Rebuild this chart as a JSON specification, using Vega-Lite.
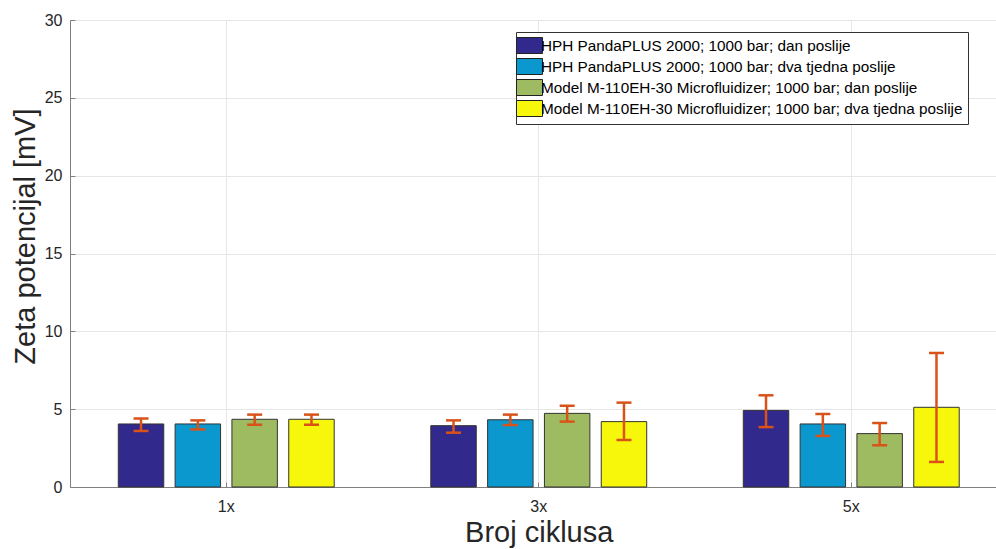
{
  "$schema": "https://vega.github.io/schema/vega-lite/v6.json",
  "autosize": {"type": "none"},
  "width": 926,
  "height": 467,
  "padding": {"left": 70, "top": 20, "right": 0, "bottom": 62},
  "background": "white",
  "config": {
    "font": "Liberation Sans",
    "view": {"stroke": "#a6a6a6", "strokeWidth": 1},
    "axis": {
      "labelFont": "Liberation Sans",
      "titleFont": "Liberation Sans",
      "labelColor": "#262626",
      "titleColor": "#262626",
      "titleFontWeight": "normal",
      "domainColor": "#808080",
      "tickColor": "#808080",
      "gridColor": "#e6e6e6",
      "labelFontSize": 16,
      "titleFontSize": 29
    }
  },
  "data": {
    "values": [
      {"ciklus": "1x", "serija": "HPH PandaPLUS 2000; 1000 bar; dan poslije", "value": 4.05, "lo": 3.6, "hi": 4.4},
      {"ciklus": "1x", "serija": "HPH PandaPLUS 2000; 1000 bar; dva tjedna poslije", "value": 4.05, "lo": 3.7, "hi": 4.28},
      {"ciklus": "1x", "serija": "Model M-110EH-30 Microfluidizer; 1000 bar; dan poslije", "value": 4.35, "lo": 4.0, "hi": 4.65},
      {"ciklus": "1x", "serija": "Model M-110EH-30 Microfluidizer; 1000 bar; dva tjedna poslije", "value": 4.35, "lo": 4.0, "hi": 4.65},
      {"ciklus": "3x", "serija": "HPH PandaPLUS 2000; 1000 bar; dan poslije", "value": 3.94, "lo": 3.49, "hi": 4.28},
      {"ciklus": "3x", "serija": "HPH PandaPLUS 2000; 1000 bar; dva tjedna poslije", "value": 4.32, "lo": 3.98, "hi": 4.65},
      {"ciklus": "3x", "serija": "Model M-110EH-30 Microfluidizer; 1000 bar; dan poslije", "value": 4.73, "lo": 4.2, "hi": 5.22},
      {"ciklus": "3x", "serija": "Model M-110EH-30 Microfluidizer; 1000 bar; dva tjedna poslije", "value": 4.2, "lo": 3.02, "hi": 5.42},
      {"ciklus": "5x", "serija": "HPH PandaPLUS 2000; 1000 bar; dan poslije", "value": 4.92, "lo": 3.85, "hi": 5.89},
      {"ciklus": "5x", "serija": "HPH PandaPLUS 2000; 1000 bar; dva tjedna poslije", "value": 4.05, "lo": 3.28, "hi": 4.69},
      {"ciklus": "5x", "serija": "Model M-110EH-30 Microfluidizer; 1000 bar; dan poslije", "value": 3.43, "lo": 2.68, "hi": 4.11},
      {"ciklus": "5x", "serija": "Model M-110EH-30 Microfluidizer; 1000 bar; dva tjedna poslije", "value": 5.12, "lo": 1.61, "hi": 8.61}
    ]
  },
  "encoding": {
    "x": {
      "field": "ciklus",
      "type": "nominal",
      "sort": ["1x", "3x", "5x"],
      "scale": {"range": [0, 937.5], "paddingInner": 0, "paddingOuter": 0},
      "axis": {
        "title": "Broj ciklusa",
        "labelAngle": 0,
        "bandPosition": 0.5,
        "grid": true,
        "tickSize": -5,
        "labelPadding": 16,
        "titlePadding": 4
      }
    },
    "xOffset": {
      "field": "serija",
      "type": "nominal",
      "sort": [
        "HPH PandaPLUS 2000; 1000 bar; dan poslije",
        "HPH PandaPLUS 2000; 1000 bar; dva tjedna poslije",
        "Model M-110EH-30 Microfluidizer; 1000 bar; dan poslije",
        "Model M-110EH-30 Microfluidizer; 1000 bar; dva tjedna poslije"
      ],
      "scale": {"paddingInner": 0.2, "paddingOuter": 0.85}
    }
  },
  "layer": [
    {
      "mark": {"type": "bar", "stroke": "#333333", "strokeWidth": 1},
      "encoding": {
        "y": {
          "field": "value",
          "type": "quantitative",
          "scale": {"domain": [0, 30], "nice": false},
          "axis": {
            "title": "Zeta potencijal [mV]",
            "values": [0, 5, 10, 15, 20, 25, 30],
            "grid": true,
            "tickSize": -5,
            "labelPadding": 13,
            "titlePadding": 4,
            "titleY": 216
          }
        },
        "color": {
          "field": "serija",
          "type": "nominal",
          "sort": [
            "HPH PandaPLUS 2000; 1000 bar; dan poslije",
            "HPH PandaPLUS 2000; 1000 bar; dva tjedna poslije",
            "Model M-110EH-30 Microfluidizer; 1000 bar; dan poslije",
            "Model M-110EH-30 Microfluidizer; 1000 bar; dva tjedna poslije"
          ],
          "scale": {"range": ["#31298C", "#0B98CF", "#9EBB62", "#F7F70C"]},
          "legend": {
            "title": null,
            "orient": "none",
            "legendX": 446,
            "legendY": 12,
            "strokeColor": "#333333",
            "fillColor": "white",
            "padding": 5,
            "symbolType": "M-1.625,-1L1.625,-1L1.625,1L-1.625,1Z",
            "symbolSize": 256,
            "symbolStrokeColor": "#222222",
            "symbolStrokeWidth": 1,
            "symbolOpacity": 1,
            "rowPadding": 0,
            "labelFontSize": 15.3,
            "labelColor": "#000000",
            "labelOffset": 3,
            "labelLimit": 600
          }
        }
      }
    },
    {
      "mark": {"type": "rule", "color": "#D95319", "strokeWidth": 2.5},
      "encoding": {
        "y": {"field": "lo", "type": "quantitative"},
        "y2": {"field": "hi"}
      }
    },
    {
      "mark": {"type": "tick", "color": "#D95319", "thickness": 2.5, "size": 15, "opacity": 1},
      "encoding": {"y": {"field": "lo", "type": "quantitative"}}
    },
    {
      "mark": {"type": "tick", "color": "#D95319", "thickness": 2.5, "size": 15, "opacity": 1},
      "encoding": {"y": {"field": "hi", "type": "quantitative"}}
    }
  ]
}
